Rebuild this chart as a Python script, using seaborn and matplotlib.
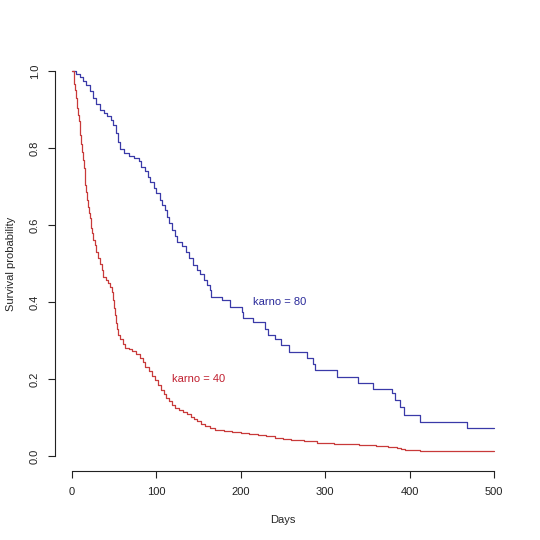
import numpy as np
import pandas as pd
import seaborn as sns
import matplotlib
matplotlib.use("Agg")
import matplotlib.pyplot as plt

# Kaplan-Meier style curves (day, survival)
days_80 = [0, 5, 9, 13, 17, 21, 25, 29, 33, 38, 42, 46, 49, 52, 54, 57, 62, 67, 73, 79,
           82, 86, 90, 93, 97, 100, 104, 107, 110, 113, 115, 119, 122, 125, 130, 135, 139,
           144, 148, 152, 156, 160, 163, 165, 178, 187, 201, 203, 215, 229, 232, 241, 248,
           257, 278, 285, 288, 314, 339, 357, 379, 383, 389, 393, 412, 468, 500]
surv_80 = [1.0, 0.993, 0.985, 0.975, 0.964, 0.948, 0.930, 0.915, 0.900, 0.892, 0.884, 0.872,
           0.860, 0.840, 0.815, 0.797, 0.787, 0.779, 0.773, 0.766, 0.752, 0.740, 0.726, 0.713,
           0.697, 0.683, 0.665, 0.652, 0.638, 0.620, 0.604, 0.588, 0.572, 0.557, 0.545, 0.530,
           0.515, 0.495, 0.484, 0.472, 0.458, 0.445, 0.430, 0.414, 0.405, 0.388, 0.375, 0.358,
           0.349, 0.331, 0.315, 0.305, 0.288, 0.271, 0.255, 0.240, 0.223, 0.206, 0.189, 0.173,
           0.163, 0.145, 0.128, 0.106, 0.089, 0.072, 0.072]

days_40 = [0, 2, 3, 4, 5, 6, 7, 8, 9, 10, 11, 12, 13, 14, 15, 16, 17, 18, 19, 20, 21, 22,
           23, 24, 25, 27, 29, 31, 33, 35, 37, 40, 43, 45, 47, 49, 50, 51, 52, 53, 55, 57,
           60, 63, 67, 71, 76, 81, 84, 87, 91, 95, 98, 102, 106, 109, 112, 115, 118, 122,
           127, 132, 136, 141, 145, 148, 153, 158, 163, 170, 180, 190, 200, 210, 220, 230,
           240, 250, 260, 275, 290, 310, 325, 340, 360, 375, 385, 390, 395, 412, 500]
surv_40 = [1.0, 0.98, 0.965, 0.95, 0.93, 0.905, 0.885, 0.87, 0.855, 0.835, 0.81, 0.79, 0.77,
           0.748, 0.727, 0.705, 0.685, 0.665, 0.648, 0.632, 0.618, 0.604, 0.592, 0.578, 0.562,
           0.548, 0.53, 0.515, 0.5, 0.483, 0.466, 0.458, 0.45, 0.44, 0.425, 0.405, 0.385,
           0.365, 0.345, 0.33, 0.315, 0.303, 0.29, 0.28, 0.277, 0.272, 0.265, 0.255, 0.243,
           0.232, 0.22, 0.208, 0.197, 0.185, 0.172, 0.162, 0.152, 0.142, 0.132, 0.125, 0.119,
           0.114, 0.109, 0.102, 0.097, 0.092, 0.084, 0.078, 0.072, 0.068, 0.065, 0.062, 0.059,
           0.057, 0.055, 0.051, 0.048, 0.045, 0.042, 0.039, 0.035, 0.032, 0.030, 0.028, 0.026,
           0.024, 0.020, 0.017, 0.015, 0.013, 0.013]

x_ticks = [0, 100, 200, 300, 400, 500]
y_ticks = [0.0, 0.2, 0.4, 0.6, 0.8, 1.0]

blue = "#3a3aa8"
red = "#c83a3a"

sns.set_style("ticks")
plt.rcParams['font.family'] = ['Liberation Sans', 'DejaVu Sans']

fig = plt.figure(figsize=(5.4, 5.4), dpi=100)
ax = fig.add_axes([0.102, 0.127, 0.844, 0.770])

df80 = pd.DataFrame({"Days": days_80, "surv": surv_80})
df40 = pd.DataFrame({"Days": days_40, "surv": surv_40})
sns.lineplot(data=df80, x="Days", y="surv", drawstyle="steps-post", color=blue,
             linewidth=0.9, estimator=None, ax=ax)
sns.lineplot(data=df40, x="Days", y="surv", drawstyle="steps-post", color=red,
             linewidth=0.9, estimator=None, ax=ax)

ax.text(246, 0.4, "karno = 80", color="#2a2a9a", fontsize=8, ha="center", va="center")
ax.text(150, 0.2, "karno = 40", color="#c01f2f", fontsize=8, ha="center", va="center")

ax.set_xlim(-20, 520)
ax.set_ylim(-0.04, 1.04)
ax.set_xticks(x_ticks)
ax.set_yticks(y_ticks)
ax.set_yticklabels([f"{v:.1f}" for v in y_ticks], rotation=90, va="center")
ax.tick_params(direction="out", length=5, width=0.8, colors="#222222", labelsize=8, pad=6)
ax.set_xlabel("Days", fontsize=8, labelpad=13)
ax.set_ylabel("Survival probability", fontsize=8, labelpad=10)

for s in ["top", "right"]:
    ax.spines[s].set_visible(False)
ax.spines["left"].set_bounds(0, 1)
ax.spines["bottom"].set_bounds(0, 500)
ax.spines["left"].set_linewidth(0.8)
ax.spines["bottom"].set_linewidth(0.8)
ax.spines["left"].set_color("#222222")
ax.spines["bottom"].set_color("#222222")

fig.savefig("out.png", dpi=100)
